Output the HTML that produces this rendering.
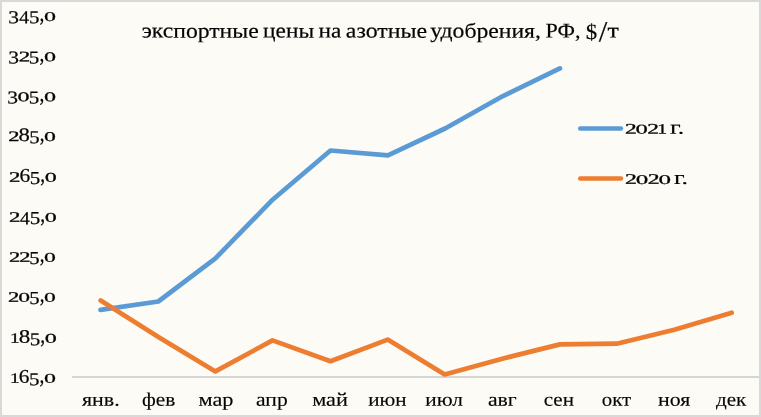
<!DOCTYPE html>
<html><head><meta charset="utf-8"><title>chart</title>
<style>html,body{margin:0;padding:0;background:#fcfbf5;}body{width:761px;height:417px;overflow:hidden;font-family:"Liberation Serif",serif;}</style>
</head><body>
<svg width="761" height="417" viewBox="0 0 761 417" style="display:block">
<rect x="0" y="0" width="761" height="417" fill="#d9d9d9"/>
<rect x="2" y="2" width="757" height="413" fill="#fcfbf5"/>
<rect x="72" y="376" width="687" height="2" fill="#d5d5d3"/>
<polyline points="100.5,309.8 158.3,301.5 215.1,258.7 272.6,199.7 330.5,150.5 387.9,155.4 445.1,128.5 502.5,96.3 559.9,68.4" fill="none" stroke="#5b9bd5" stroke-width="4.7" stroke-linecap="round" stroke-linejoin="round"/>
<polyline points="100.7,300.5 158.4,336.9 215.4,371.4 272.5,340.4 330.5,361.2 387.7,339.6 444.7,374.4 502.3,358.7 559.9,344.4 616.8,343.7 674.3,329.8 731.7,312.7" fill="none" stroke="#ed7d31" stroke-width="4.7" stroke-linecap="round" stroke-linejoin="round"/>
<line x1="580.2" y1="128.5" x2="621" y2="128.5" stroke="#5b9bd5" stroke-width="4.4" stroke-linecap="round"/>
<line x1="580.2" y1="178.5" x2="621" y2="178.5" stroke="#ed7d31" stroke-width="4.4" stroke-linecap="round"/>
<g font-family="Liberation Serif" fill="#000" stroke="#000" stroke-width="0.12" opacity="0.99">
<text transform="matrix(1.0769 0.001 0 0.9556 141.67 37.60)" font-size="22" stroke-width="0.2">экспортные</text>
<text transform="matrix(1.0620 0.001 0 0.9556 263.03 37.60)" font-size="22" stroke-width="0.2">цены</text>
<text transform="matrix(1.0582 0.001 0 0.9556 318.53 37.60)" font-size="22" stroke-width="0.2">на</text>
<text transform="matrix(1.0846 0.001 0 0.9556 345.86 37.60)" font-size="22" stroke-width="0.2">азотные</text>
<text transform="matrix(1.0769 0.001 0 0.9556 430.16 37.60)" font-size="22" stroke-width="0.2">удобрения,</text>
<text transform="matrix(1.0040 0.001 0 0.9556 545.54 37.60)" font-size="22" stroke-width="0.2">РФ,</text>
<text transform="matrix(1.0421 0.001 0 0.9864 585.75 39.00)" font-size="22" stroke-width="0.15">$</text><text transform="matrix(1.3938 0.001 0 1.3424 598.68 41.42)" font-size="22" stroke-width="0.12">/</text><text transform="matrix(1.1785 0.001 0 0.9556 607.41 37.60)" font-size="22" stroke-width="0.2">т</text>
<text transform="matrix(1.0973 0.001 0 0.9586 81.99 405.75)" font-size="20" stroke-width="0.15">янв.</text>
<text transform="matrix(1.0635 0.001 0 0.9586 142.06 405.75)" font-size="20" stroke-width="0.15">фев</text>
<text transform="matrix(1.1163 0.001 0 0.9586 198.44 405.75)" font-size="20" stroke-width="0.15">мар</text>
<text transform="matrix(1.0791 0.001 0 0.9586 256.04 405.75)" font-size="20" stroke-width="0.15">апр</text>
<text transform="matrix(1.1158 0.001 0 0.9586 312.14 405.75)" font-size="20" stroke-width="0.15">май</text>
<text transform="matrix(1.0563 0.001 0 0.9586 368.28 405.75)" font-size="20" stroke-width="0.15">июн</text>
<text transform="matrix(1.0671 0.001 0 0.9586 425.37 405.75)" font-size="20" stroke-width="0.15">июл</text>
<text transform="matrix(1.0870 0.001 0 0.9586 487.94 405.75)" font-size="20" stroke-width="0.15">авг</text>
<text transform="matrix(1.0547 0.001 0 0.9586 543.66 405.75)" font-size="20" stroke-width="0.15">сен</text>
<text transform="matrix(1.0443 0.001 0 0.9586 601.76 405.75)" font-size="20" stroke-width="0.15">окт</text>
<text transform="matrix(1.0938 0.001 0 0.9586 658.06 405.75)" font-size="20" stroke-width="0.15">ноя</text>
<text transform="matrix(1.0556 0.001 0 0.9586 716.00 405.75)" font-size="20" stroke-width="0.15">дек</text>
<g><text transform="matrix(1.0746 0.001 0 0.9104 8.34 23.32)" font-size="20" stroke-width="0.22">3</text><text transform="matrix(0.9778 0.001 0 0.9380 19.26 23.59)" font-size="20" stroke-width="0.22">4</text><text transform="matrix(1.0487 0.001 0 0.9172 28.90 23.32)" font-size="20" stroke-width="0.22">5</text><text transform="matrix(0.9636 0.001 0 1.1887 39.49 21.02)" font-size="20" stroke-width="0.2">,</text><text transform="matrix(1.2021 0.001 0 0.6679 43.93 21.00)" font-size="20" stroke-width="0.35">0</text></g>
<g><text transform="matrix(1.0777 0.001 0 0.9104 8.34 63.52)" font-size="20" stroke-width="0.22">3</text><text transform="matrix(1.1425 0.001 0 0.7253 18.65 61.14)" font-size="20" stroke-width="0.45">2</text><text transform="matrix(1.0517 0.001 0 0.9172 28.83 63.52)" font-size="20" stroke-width="0.22">5</text><text transform="matrix(0.9663 0.001 0 1.1887 39.44 61.22)" font-size="20" stroke-width="0.2">,</text><text transform="matrix(1.2055 0.001 0 0.6679 43.90 61.20)" font-size="20" stroke-width="0.35">0</text></g>
<g><text transform="matrix(1.0778 0.001 0 0.9104 7.29 103.52)" font-size="20" stroke-width="0.22">3</text><text transform="matrix(1.2056 0.001 0 0.6679 17.57 101.20)" font-size="20" stroke-width="0.35">0</text><text transform="matrix(1.0519 0.001 0 0.9172 28.83 103.52)" font-size="20" stroke-width="0.22">5</text><text transform="matrix(0.9665 0.001 0 1.1887 39.44 101.22)" font-size="20" stroke-width="0.2">,</text><text transform="matrix(1.2056 0.001 0 0.6679 43.90 101.20)" font-size="20" stroke-width="0.35">0</text></g>
<g><text transform="matrix(1.1281 0.001 0 0.7253 8.14 140.94)" font-size="20" stroke-width="0.45">2</text><text transform="matrix(1.1355 0.001 0 0.9585 18.54 140.95)" font-size="20" stroke-width="0.22">8</text><text transform="matrix(1.0385 0.001 0 0.9172 29.16 143.32)" font-size="20" stroke-width="0.22">5</text><text transform="matrix(0.9542 0.001 0 1.1887 39.64 141.02)" font-size="20" stroke-width="0.2">,</text><text transform="matrix(1.1903 0.001 0 0.6679 44.04 141.00)" font-size="20" stroke-width="0.35">0</text></g>
<g><text transform="matrix(1.1425 0.001 0 0.7253 8.98 181.74)" font-size="20" stroke-width="0.45">2</text><text transform="matrix(1.0748 0.001 0 0.9655 19.45 181.75)" font-size="20" stroke-width="0.22">6</text><text transform="matrix(1.0518 0.001 0 0.9172 29.73 184.12)" font-size="20" stroke-width="0.22">5</text><text transform="matrix(0.9664 0.001 0 1.1887 40.34 181.82)" font-size="20" stroke-width="0.2">,</text><text transform="matrix(1.2055 0.001 0 0.6679 44.80 181.80)" font-size="20" stroke-width="0.35">0</text></g>
<g><text transform="matrix(1.1434 0.001 0 0.7253 8.98 221.74)" font-size="20" stroke-width="0.45">2</text><text transform="matrix(0.9814 0.001 0 0.9380 20.03 224.39)" font-size="20" stroke-width="0.22">4</text><text transform="matrix(1.0526 0.001 0 0.9172 29.71 224.12)" font-size="20" stroke-width="0.22">5</text><text transform="matrix(0.9671 0.001 0 1.1887 40.33 221.82)" font-size="20" stroke-width="0.2">,</text><text transform="matrix(1.2065 0.001 0 0.6679 44.79 221.80)" font-size="20" stroke-width="0.35">0</text></g>
<g><text transform="matrix(1.1244 0.001 0 0.7253 8.99 261.74)" font-size="20" stroke-width="0.45">2</text><text transform="matrix(1.1244 0.001 0 0.7253 19.23 261.74)" font-size="20" stroke-width="0.45">2</text><text transform="matrix(1.0351 0.001 0 0.9172 29.25 264.12)" font-size="20" stroke-width="0.22">5</text><text transform="matrix(0.9510 0.001 0 1.1887 39.69 261.82)" font-size="20" stroke-width="0.2">,</text><text transform="matrix(1.1864 0.001 0 0.6679 44.08 261.80)" font-size="20" stroke-width="0.35">0</text></g>
<g><text transform="matrix(1.1237 0.001 0 0.7253 7.99 301.74)" font-size="20" stroke-width="0.45">2</text><text transform="matrix(1.1857 0.001 0 0.6679 18.19 301.80)" font-size="20" stroke-width="0.35">0</text><text transform="matrix(1.0345 0.001 0 0.9172 29.26 304.12)" font-size="20" stroke-width="0.22">5</text><text transform="matrix(0.9505 0.001 0 1.1887 39.70 301.82)" font-size="20" stroke-width="0.2">,</text><text transform="matrix(1.1857 0.001 0 0.6679 44.08 301.80)" font-size="20" stroke-width="0.35">0</text></g>
<g><text transform="matrix(0.9629 0.001 0 0.7111 10.06 342.81)" font-size="20" stroke-width="0.4">1</text><text transform="matrix(1.1543 0.001 0 0.9585 18.83 342.80)" font-size="20" stroke-width="0.22">8</text><text transform="matrix(1.0557 0.001 0 0.9172 29.63 345.17)" font-size="20" stroke-width="0.22">5</text><text transform="matrix(0.9699 0.001 0 1.1887 40.28 342.87)" font-size="20" stroke-width="0.2">,</text><text transform="matrix(1.2100 0.001 0 0.6679 44.76 342.85)" font-size="20" stroke-width="0.35">0</text></g>
<g><text transform="matrix(0.9551 0.001 0 0.7111 10.07 382.81)" font-size="20" stroke-width="0.4">1</text><text transform="matrix(1.0700 0.001 0 0.9655 18.72 382.80)" font-size="20" stroke-width="0.22">6</text><text transform="matrix(1.0471 0.001 0 0.9172 28.94 385.17)" font-size="20" stroke-width="0.22">5</text><text transform="matrix(0.9621 0.001 0 1.1887 39.51 382.87)" font-size="20" stroke-width="0.2">,</text><text transform="matrix(1.2002 0.001 0 0.6679 43.95 382.85)" font-size="20" stroke-width="0.35">0</text></g>
<g><text transform="matrix(1.1714 0.001 0 0.7253 624.91 133.49)" font-size="20" stroke-width="0.45">2</text><text transform="matrix(1.2360 0.001 0 0.6679 635.54 133.55)" font-size="20" stroke-width="0.35">0</text><text transform="matrix(1.1714 0.001 0 0.7253 647.31 133.49)" font-size="20" stroke-width="0.45">2</text><text transform="matrix(0.9836 0.001 0 0.7111 657.35 133.51)" font-size="20" stroke-width="0.4">1</text></g>
<text transform="matrix(1.3043 0.001 0 0.9760 669.98 133.65)" font-size="20" stroke-width="0.15">г.</text>
<g><text transform="matrix(1.1892 0.001 0 0.7253 624.90 183.84)" font-size="20" stroke-width="0.45">2</text><text transform="matrix(1.2548 0.001 0 0.6679 635.69 183.90)" font-size="20" stroke-width="0.35">0</text><text transform="matrix(1.1892 0.001 0 0.7253 647.64 183.84)" font-size="20" stroke-width="0.45">2</text><text transform="matrix(1.2548 0.001 0 0.6679 658.44 183.90)" font-size="20" stroke-width="0.35">0</text></g>
<text transform="matrix(1.2935 0.001 0 0.9760 673.88 184.00)" font-size="20" stroke-width="0.15">г.</text>
</g>
</svg>
</body></html>
